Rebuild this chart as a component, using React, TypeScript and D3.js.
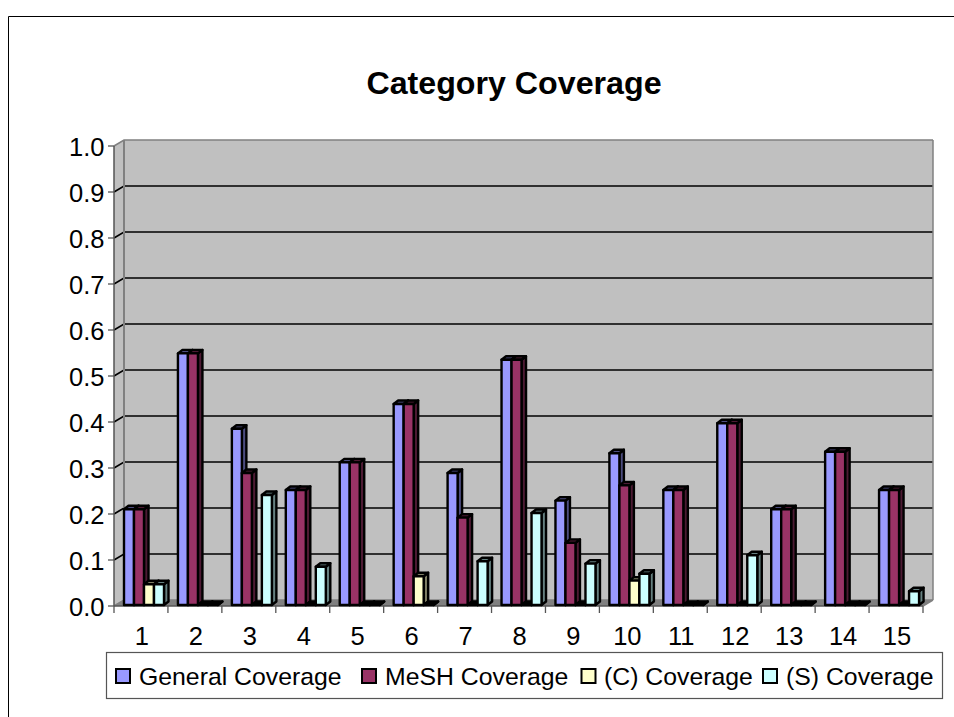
import React from "react";
import * as d3 from "d3";

const categories = ["1","2","3","4","5","6","7","8","9","10","11","12","13","14","15"];
const seriesNames = ["General Coverage","MeSH Coverage","(C) Coverage","(S) Coverage"];
const generalCoverage = [0.208,0.547,0.383,0.25,0.31,0.437,0.287,0.533,0.227,0.33,0.25,0.395,0.208,0.333,0.25];
const meshCoverage = [0.208,0.547,0.287,0.25,0.31,0.437,0.19,0.533,0.135,0.26,0.25,0.395,0.208,0.333,0.25];
const cCoverage = [0.045,0,0,0,0,0.0625,0,0,0,0.053,0,0,0,0,0];
const sCoverage = [0.045,0,0.239,0.083,0,0,0.095,0.2,0.09,0.068,0,0.108,0,0,0.03];
const yTicks = [0,0.1,0.2,0.3,0.4,0.5,0.6,0.7,0.8,0.9,1.0];
const fills = ["#9999ff","#993366","#ffffcc","#ccffff"];
const sides = ["#4d4d80","#4d1a33","#808066","#668080"];
const allSeries = [generalCoverage, meshCoverage, cCoverage, sCoverage];
const font = "'Liberation Sans', Arial, sans-serif";

export default function App() {
  const x0 = 114, x1 = 923, dx = 10, dy = -6;
  const y = d3.scaleLinear().domain([0, 1]).range([606, 146]);
  const yBar = d3.scaleLinear().domain([0, 1]).range([605, 145]);
  const x = d3.scaleBand().domain(categories).range([x0, x1]);
  const step = x.bandwidth();
  const barW = 10, sd = 4.5, st = -3.5;
  const legendX = [116, 362, 581.5, 763];
  const legendTextX = [139, 385, 604, 786];
  return (
    <svg width={954} height={717} style={{ position: "absolute", left: 0, top: 0, background: "#fff" }} fontFamily={font}>
      <path d="M8.5,717 V16.5 H954" fill="none" stroke="#000" strokeWidth={1} />
      <text x={514} y={94} textAnchor="middle" fontSize={32.2} fontWeight="bold">Category Coverage</text>

      <polygon points={`${x0},${y(1)} ${x0+dx},${y(1)+dy} ${x1+dx},${y(1)+dy} ${x1+dx},${y(0)+dy} ${x1},${y(0)} ${x0},${y(0)}`} fill="#c0c0c0" />
      <polygon points={`${x0},${y(0)} ${x0+dx},${y(0)+dy} ${x1+dx},${y(0)+dy} ${x1},${y(0)}`} fill="#808080" />
      {yTicks.map(t => (
        <g key={t}>
          <polyline
            points={`${x0},${y(t)} ${x0+dx},${y(t)+dy} ${x1+dx},${y(t)+dy}`}
            fill="none"
            stroke={t === 1 || t === 0 ? "#808080" : "#000"}
            strokeWidth={t === 1 ? 1.6 : 1.7}
          />
          <line x1={x0-6} x2={x0} y1={y(t)} y2={y(t)} stroke="#555" strokeWidth={1.3} />
          <text x={104.5} y={y(t)+9.5} textAnchor="end" fontSize={25.5}>{t.toFixed(1)}</text>
        </g>
      ))}
      <line x1={x0+dx} x2={x0+dx} y1={y(1)+dy} y2={y(0)+dy} stroke="#808080" strokeWidth={2} />
      <line x1={x1+dx} x2={x1+dx} y1={y(1)+dy} y2={y(0)+dy} stroke="#808080" strokeWidth={1.5} />
      <line x1={x0} x2={x0} y1={y(1)} y2={y(0)} stroke="#555" strokeWidth={1.5} />
      <line x1={x0} x2={x1} y1={y(0)} y2={y(0)} stroke="#555" strokeWidth={1.5} />
      <line x1={x1} x2={x1+dx} y1={y(0)} y2={y(0)+dy} stroke="#808080" strokeWidth={1.5} />
      {categories.map((c, i) => {
        const tx = x0 + i * step;
        return <line key={c} x1={tx} x2={tx} y1={y(0)} y2={y(0)+7} stroke="#555" strokeWidth={1.3} />;
      })}
      <line x1={x1} x2={x1} y1={y(0)} y2={y(0)+7} stroke="#555" strokeWidth={1.3} />

      {categories.map((c, i) => (
        <g key={c}>
          {allSeries.map((s, k) => {
            const v = s[i];
            const bx = (x(c) as number) + 10 + k * barW;
            const top = yBar(v), base = yBar(0);
            const stroke = { stroke: "#000", strokeWidth: 2.4, strokeLinejoin: "round" as const };
            return (
              <g key={k}>
                <polygon points={`${bx+barW},${base} ${bx+barW+sd},${base+st} ${bx+barW+sd},${top+st} ${bx+barW},${top}`} fill={sides[k]} {...stroke} />
                <polygon points={`${bx},${top} ${bx+sd},${top+st} ${bx+barW+sd},${top+st} ${bx+barW},${top}`} fill={v > 0 ? sides[k] : "#000"} {...stroke} />
                {v > 0 && <rect x={bx} y={top} width={barW} height={base-top} fill={fills[k]} {...stroke} />}
              </g>
            );
          })}
          <text x={(x(c) as number) + step/2 + 1} y={644.5} textAnchor="middle" fontSize={25.5}>{c}</text>
        </g>
      ))}

      <rect x={106.5} y={652.5} width={836} height={46} fill="#fff" stroke="#555" strokeWidth={1.2} />
      {seriesNames.map((n, k) => (
        <g key={n}>
          <rect x={legendX[k]} y={669} width={14} height={14} fill={fills[k]} stroke="#000" strokeWidth={2} />
          <text x={legendTextX[k]} y={684.5} fontSize={24.8}>{n}</text>
        </g>
      ))}
    </svg>
  );
}
